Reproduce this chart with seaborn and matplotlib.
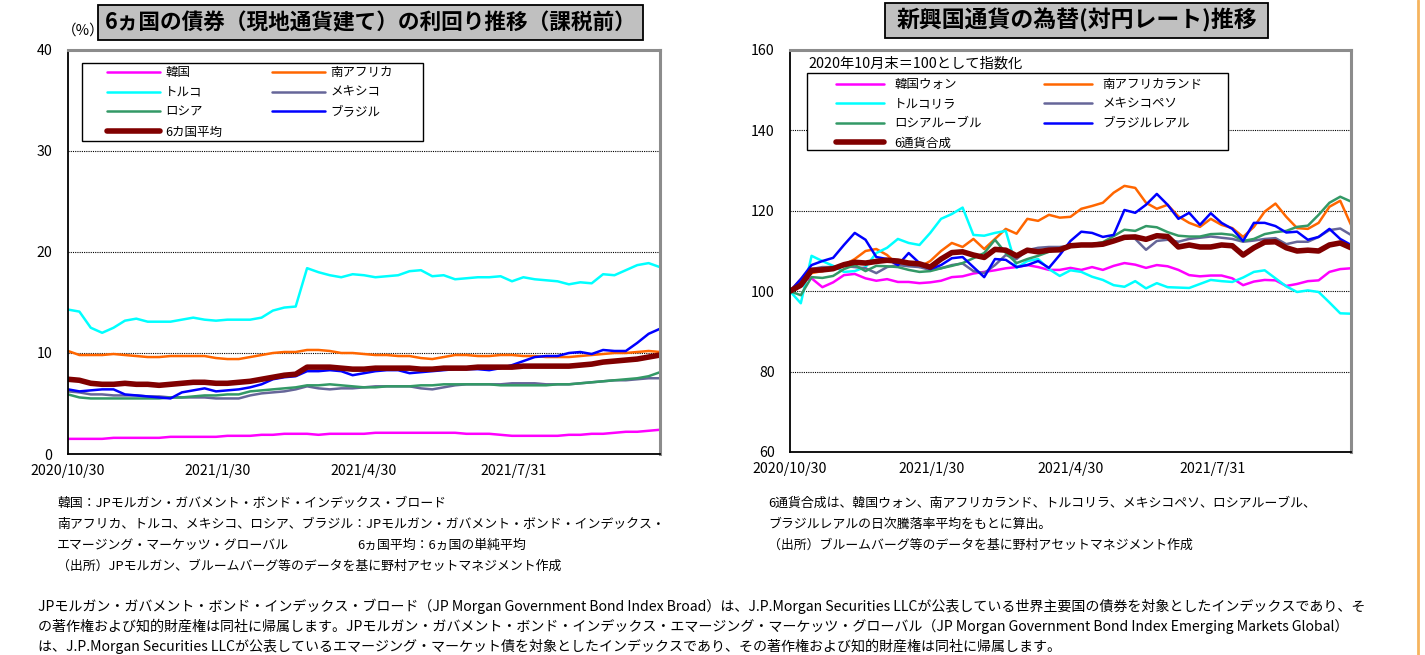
import numpy as np
import pandas as pd
import seaborn as sns
import matplotlib.pyplot as plt
from matplotlib.patches import Rectangle
from matplotlib.lines import Line2D

sns.set_theme(style='white')
plt.rcParams['font.family'] = ['Noto Sans CJK JP', 'DejaVu Sans']
plt.rcParams['text.color'] = 'black'
plt.rcParams['xtick.color'] = 'black'
plt.rcParams['ytick.color'] = 'black'
plt.rcParams['xtick.labelcolor'] = 'black'
plt.rcParams['ytick.labelcolor'] = 'black'

# --- data (weekly readings, Fridays) ---
dates = pd.date_range('2020-10-30', '2021-10-29', freq='7D')

# left chart: yields (%)
yield_korea = [1.5, 1.5, 1.5, 1.5, 1.6, 1.6, 1.6, 1.6, 1.6, 1.7,
               1.7, 1.7, 1.7, 1.7, 1.8, 1.8, 1.8, 1.9, 1.9, 2.0,
               2.0, 2.0, 1.9, 2.0, 2.0, 2.0, 2.0, 2.1, 2.1, 2.1,
               2.1, 2.1, 2.1, 2.1, 2.1, 2.0, 2.0, 2.0, 1.9, 1.8,
               1.8, 1.8, 1.8, 1.8, 1.9, 1.9, 2.0, 2.0, 2.1, 2.2,
               2.2, 2.3, 2.4]
yield_south_africa = [10.2, 9.8, 9.8, 9.8, 9.9, 9.8, 9.7, 9.6, 9.6, 9.7,
                      9.7, 9.7, 9.7, 9.5, 9.4, 9.4, 9.6, 9.8, 10.0, 10.1,
                      10.1, 10.3, 10.3, 10.2, 10.0, 10.0, 9.9, 9.8, 9.8, 9.7,
                      9.7, 9.5, 9.4, 9.6, 9.8, 9.8, 9.7, 9.7, 9.8, 9.8,
                      9.7, 9.7, 9.6, 9.6, 9.6, 9.7, 9.8, 9.9, 10.0, 10.0,
                      10.1, 10.2, 10.1]
yield_turkey = [14.3, 14.1, 12.5, 12.0, 12.5, 13.2, 13.4, 13.1, 13.1, 13.1,
                13.3, 13.5, 13.3, 13.2, 13.3, 13.3, 13.3, 13.5, 14.2, 14.5,
                14.6, 18.4, 18.0, 17.7, 17.5, 17.8, 17.7, 17.5, 17.6, 17.7,
                18.1, 18.2, 17.6, 17.7, 17.3, 17.4, 17.5, 17.5, 17.6, 17.1,
                17.5, 17.3, 17.2, 17.1, 16.8, 17.0, 16.9, 17.8, 17.7, 18.2,
                18.7, 18.9, 18.5]
yield_mexico = [6.2, 6.1, 5.9, 5.9, 5.8, 5.8, 5.8, 5.7, 5.7, 5.6,
                5.6, 5.6, 5.6, 5.5, 5.5, 5.5, 5.8, 6.0, 6.1, 6.2,
                6.4, 6.7, 6.5, 6.4, 6.5, 6.5, 6.6, 6.7, 6.7, 6.7,
                6.7, 6.5, 6.4, 6.6, 6.8, 6.9, 6.9, 6.9, 6.9, 7.0,
                7.0, 7.0, 6.9, 6.9, 6.9, 7.0, 7.1, 7.2, 7.3, 7.3,
                7.4, 7.5, 7.5]
yield_russia = [5.9, 5.6, 5.5, 5.5, 5.5, 5.5, 5.5, 5.5, 5.5, 5.6,
                5.6, 5.7, 5.8, 5.8, 5.9, 5.9, 6.2, 6.3, 6.4, 6.5,
                6.6, 6.8, 6.8, 6.9, 6.8, 6.7, 6.6, 6.6, 6.7, 6.7,
                6.7, 6.8, 6.8, 6.9, 6.9, 6.9, 6.9, 6.9, 6.8, 6.8,
                6.8, 6.8, 6.8, 6.9, 6.9, 7.0, 7.1, 7.2, 7.3, 7.4,
                7.5, 7.7, 8.1]
yield_brazil = [6.4, 6.2, 6.3, 6.4, 6.4, 5.9, 5.8, 5.7, 5.6, 5.5,
                6.1, 6.3, 6.5, 6.2, 6.3, 6.4, 6.6, 6.9, 7.4, 7.6,
                7.7, 8.2, 8.2, 8.3, 8.2, 7.8, 8.0, 8.2, 8.3, 8.3,
                8.0, 8.1, 8.2, 8.3, 8.4, 8.4, 8.4, 8.3, 8.5, 8.8,
                9.2, 9.6, 9.7, 9.7, 10.0, 10.1, 9.9, 10.3, 10.2, 10.2,
                11.0, 11.9, 12.4]
yield_average = [7.4, 7.3, 7.0, 6.9, 6.9, 7.0, 6.9, 6.9, 6.8, 6.9,
                 7.0, 7.1, 7.1, 7.0, 7.0, 7.1, 7.2, 7.4, 7.6, 7.8,
                 7.9, 8.6, 8.6, 8.6, 8.5, 8.4, 8.4, 8.5, 8.5, 8.5,
                 8.5, 8.4, 8.4, 8.5, 8.5, 8.5, 8.6, 8.6, 8.6, 8.6,
                 8.7, 8.7, 8.7, 8.7, 8.7, 8.8, 8.9, 9.1, 9.2, 9.3,
                 9.4, 9.6, 9.8]

# right chart: FX vs JPY, 2020/10 end = 100
fx_korea = [100.0, 102.5, 103.2, 101.0, 102.2, 104.0, 104.3, 103.2, 102.6, 103.0,
            102.3, 102.3, 102.0, 102.2, 102.6, 103.5, 103.7, 104.4, 104.8, 105.2,
            105.7, 106.0, 106.5, 106.0, 105.3, 105.3, 105.8, 105.3, 106.0, 105.3,
            106.3, 107.0, 106.6, 105.8, 106.5, 106.2, 105.3, 104.0, 103.7, 103.9,
            103.9, 103.2, 101.5, 102.4, 102.8, 102.7, 101.3, 101.8, 102.5, 102.7,
            104.8, 105.5, 105.7]
fx_south_africa = [100.0, 103.0, 104.5, 105.0, 105.5, 106.5, 108.0, 110.0, 110.5, 109.0,
                   106.5, 107.0, 106.0, 107.5, 110.0, 112.0, 111.0, 113.0, 110.5, 113.0,
                   115.5, 114.3, 118.0, 117.5, 119.0, 118.3, 118.5, 120.5, 121.2, 122.0,
                   124.5, 126.2, 125.7, 122.0, 120.5, 121.5, 118.6, 117.0, 116.0, 118.0,
                   116.5, 115.7, 113.5, 116.0, 119.8, 121.8, 118.5, 115.7, 115.5, 117.0,
                   121.0, 122.5, 116.5]
fx_turkey = [100.0, 97.0, 108.8, 107.5, 106.3, 104.8, 105.0, 106.0, 109.5, 110.8,
             113.0, 112.0, 111.5, 114.5, 118.0, 119.2, 120.8, 114.0, 113.8, 114.5,
             115.0, 105.8, 107.5, 108.0, 105.5, 103.8, 105.2, 104.8, 103.6, 102.8,
             101.5, 101.1, 102.5, 100.7, 102.0, 101.0, 100.9, 100.8, 101.8, 102.8,
             102.5, 102.3, 103.4, 104.8, 105.2, 103.2, 101.2, 99.8, 100.2, 99.8,
             97.2, 94.5, 94.4]
fx_mexico = [100.0, 102.0, 105.5, 106.0, 106.0, 106.3, 106.0, 105.7, 104.5, 106.0,
             106.5, 106.2, 106.0, 105.3, 105.7, 106.5, 106.9, 105.0, 104.5, 106.5,
             109.0, 108.0, 110.2, 110.8, 111.0, 111.0, 111.3, 111.5, 111.5, 111.6,
             112.5, 113.6, 113.0, 110.3, 112.5, 112.8, 112.3, 113.0, 113.3, 113.6,
             113.3, 113.0, 112.3, 112.6, 113.0, 113.2, 111.7, 112.3, 112.3, 113.5,
             115.2, 115.6, 114.0]
fx_russia = [100.0, 99.0, 103.5, 103.3, 103.8, 105.5, 106.5, 105.0, 106.3, 106.2,
             106.0, 105.3, 104.8, 105.0, 105.7, 106.3, 107.0, 108.2, 109.5, 112.8,
             109.5, 107.0, 108.0, 108.8, 109.8, 110.6, 111.2, 111.5, 111.7, 112.2,
             113.7, 115.3, 115.0, 116.2, 115.9, 114.7, 113.8, 113.6, 113.6, 114.2,
             114.3, 114.0, 112.5, 113.0, 114.2, 114.7, 115.0, 116.0, 116.3, 119.0,
             122.0, 123.5, 122.3]
fx_brazil = [100.0, 103.0, 106.5, 107.5, 108.3, 111.5, 114.5, 112.8, 108.5, 108.0,
             106.5, 109.5, 107.0, 105.5, 106.5, 108.2, 108.5, 106.0, 103.5, 108.0,
             107.8, 106.0, 106.5, 107.5, 105.8, 109.0, 112.5, 114.8, 114.5, 113.5,
             114.0, 120.2, 119.5, 121.5, 124.2, 121.5, 118.0, 119.5, 116.5, 119.4,
             117.0, 115.5, 112.5, 117.0, 117.0, 116.2, 114.6, 114.8, 112.8, 113.5,
             115.5, 113.0, 111.5]
fx_composite = [100.0, 101.5, 105.2, 105.3, 105.6, 106.6, 107.2, 107.0, 107.4, 107.7,
                107.5, 107.0, 106.8, 106.0, 108.0, 109.6, 109.8, 109.0, 108.4, 110.4,
                110.2, 108.8, 110.2, 109.8, 110.2, 110.3, 111.3, 111.5, 111.5, 111.7,
                112.5, 113.4, 113.5, 112.9, 113.8, 113.6, 111.0, 111.5, 111.0, 111.0,
                111.5, 111.3, 109.0, 110.8, 112.2, 112.3, 110.8, 110.0, 110.2, 110.0,
                111.5, 112.0, 110.8]

yield_names = ['韓国', '南アフリカ', 'トルコ', 'メキシコ', 'ロシア', 'ブラジル', '6カ国平均']
fx_names = ['韓国ウォン', '南アフリカランド', 'トルコリラ', 'メキシコペソ',
            'ロシアルーブル', 'ブラジルレアル', '6通貨合成']
colors = ['#FF00FF', '#FF6600', '#00FFFF', '#666699', '#339966', '#0000FF', '#800000']

tick_dates = pd.to_datetime(['2020-10-30', '2021-01-30', '2021-04-30', '2021-07-31'])
tick_labels = ['2020/10/30', '2021/1/30', '2021/4/30', '2021/7/31']

fig = plt.figure(figsize=(14.25, 6.55), dpi=100)
W, H = 1425, 655


def px_axes(x0, y0, x1, y1):
    return fig.add_axes([x0 / W, 1 - y1 / H, (x1 - x0) / W, (y1 - y0) / H])


def style_axes(ax, ylim, yticks):
    ax.set_xlim(dates[0], dates[-1])
    ax.set_ylim(*ylim)
    ax.set_yticks(yticks)
    ax.set_xticks(tick_dates)
    ax.set_xticklabels(tick_labels)
    ax.tick_params(axis='x', direction='in', length=5, width=1, labelsize=10.2, pad=7)
    ax.tick_params(axis='y', length=0, labelsize=10.2, pad=11)
    ax.set_xlabel('')
    ax.set_ylabel('')
    for g in yticks[1:-1]:
        ax.axhline(g, color='black', lw=0.8, ls=(0, (1, 1)), zorder=0)
    for s in ['left', 'bottom']:
        ax.spines[s].set_color('black')
        ax.spines[s].set_linewidth(1.3)
    for s in ['top', 'right']:
        ax.spines[s].set_color('#8c8c8c')
        ax.spines[s].set_linewidth(2.2)


def draw_lines(ax, series, names):
    for vals, name, c in zip(series, names, colors):
        lw = 4.0 if name in ('6カ国平均', '6通貨合成') else 1.8
        sns.lineplot(x=dates, y=vals, ax=ax, color=c, lw=lw, label=name)
    h, l = ax.get_legend_handles_labels()
    order = [0, 2, 4, 6, 1, 3, 5]
    return [h[i] for i in order], [l[i] for i in order]


def legend_box(ax, ax_px, box_px):
    # white framed box behind a frameless legend
    ax0, ay0, ax1_, ay1 = ax_px
    bx0, by0, bx1, by1 = box_px
    aw, ah = ax1_ - ax0, ay1 - ay0
    ax.add_patch(Rectangle(((bx0 - ax0) / aw, (ay1 - by1) / ah), (bx1 - bx0) / aw, (by1 - by0) / ah,
                           transform=ax.transAxes, fc='white', ec='black', lw=1.0, zorder=4))


# --- left: yields ---
left_px = (68, 50, 660, 454)
ax1 = px_axes(*left_px)
h, l = draw_lines(ax1, [yield_korea, yield_south_africa, yield_turkey, yield_mexico,
                        yield_russia, yield_brazil, yield_average], yield_names)
style_axes(ax1, (0, 40), [0, 10, 20, 30, 40])
legend_box(ax1, left_px, (82, 63, 423, 141))
leg = ax1.legend(h, l, ncol=2, loc='upper left', bbox_to_anchor=((107 - 68) / 592, (454 - 66) / 404),
                 borderaxespad=0, borderpad=0, frameon=False, fontsize=9,
                 handlelength=4.25, columnspacing=4.0, labelspacing=0.55, handletextpad=0.4)
leg.set_zorder(5)

# --- right: FX ---
right_px = (790, 50, 1351, 452)
ax2 = px_axes(*right_px)
h, l = draw_lines(ax2, [fx_korea, fx_south_africa, fx_turkey, fx_mexico,
                        fx_russia, fx_brazil, fx_composite], fx_names)
style_axes(ax2, (60, 160), [60, 80, 100, 120, 140, 160])
legend_box(ax2, right_px, (807, 73, 1228, 150))
leg = ax2.legend(h, l, ncol=2, loc='upper left', bbox_to_anchor=((836 - 790) / 561, (452 - 78) / 402),
                 borderaxespad=0, borderpad=0, frameon=False, fontsize=9,
                 handlelength=3.85, columnspacing=5.0, labelspacing=0.52, handletextpad=0.8)
leg.set_zorder(5)
ax2.text((808 - 790) / 561, (452 - 63) / 402, '2020年10月末＝100として指数化', transform=ax2.transAxes,
         fontsize=10.3, va='center', ha='left')

# --- title boxes ---
for (x0, y0, x1, y1), title, fs in [((98, 5, 643, 40), '6ヵ国の債券（現地通貨建て）の利回り推移（課税前）', 15.6),
                                    ((885, 3, 1268, 38), '新興国通貨の為替(対円レート)推移', 16.5)]:
    fig.add_artist(Rectangle((x0 / W, 1 - y1 / H), (x1 - x0) / W, (y1 - y0) / H,
                             transform=fig.transFigure, fc='#C0C0C0', ec='black', lw=1.3))
    fig.text((x0 + x1) / 2 / W, 1 - (y0 + y1) / 2 / H, title, ha='center', va='center',
             fontsize=fs, fontweight='bold')

fig.text(62 / W, 1 - 31 / H, '（%）', fontsize=10.5, va='center', ha='left')

# --- footnotes ---
left_notes = ['韓国：JPモルガン・ガバメント・ボンド・インデックス・ブロード',
              '南アフリカ、トルコ、メキシコ、ロシア、ブラジル：JPモルガン・ガバメント・ボンド・インデックス・',
              'エマージング・マーケッツ・グローバル',
              '（出所）JPモルガン、ブルームバーグ等のデータを基に野村アセットマネジメント作成']
for i, t in enumerate(left_notes):
    fig.text(57 / W, 1 - (503 + 21 * i) / H, t, fontsize=9.3, va='center', ha='left')
fig.text(357 / W, 1 - 545 / H, '6ヵ国平均：6ヵ国の単純平均', fontsize=9.3, va='center', ha='left')

right_notes = ['6通貨合成は、韓国ウォン、南アフリカランド、トルコリラ、メキシコペソ、ロシアルーブル、',
               'ブラジルレアルの日次騰落率平均をもとに算出。',
               '（出所）ブルームバーグ等のデータを基に野村アセットマネジメント作成']
for i, t in enumerate(right_notes):
    fig.text(768 / W, 1 - (503 + 21 * i) / H, t, fontsize=9.3, va='center', ha='left')

bottom_notes = ['JPモルガン・ガバメント・ボンド・インデックス・ブロード（JP Morgan Government Bond Index Broad）は、J.P.Morgan Securities LLCが公表している世界主要国の債券を対象としたインデックスであり、そ',
                'の著作権および知的財産権は同社に帰属します。JPモルガン・ガバメント・ボンド・インデックス・エマージング・マーケッツ・グローバル（JP Morgan Government Bond Index Emerging Markets Global）',
                'は、J.P.Morgan Securities LLCが公表しているエマージング・マーケット債を対象としたインデックスであり、その著作権および知的財産権は同社に帰属します。']
for i, t in enumerate(bottom_notes):
    fig.text(38 / W, 1 - (606 + 20 * i) / H, t, fontsize=10.1, va='center', ha='left')

fig.add_artist(Line2D([1418 / W, 1418 / W], [0, 1], transform=fig.transFigure,
                      color='#F6B45E', lw=2))

fig.savefig('out.png', dpi=100)
